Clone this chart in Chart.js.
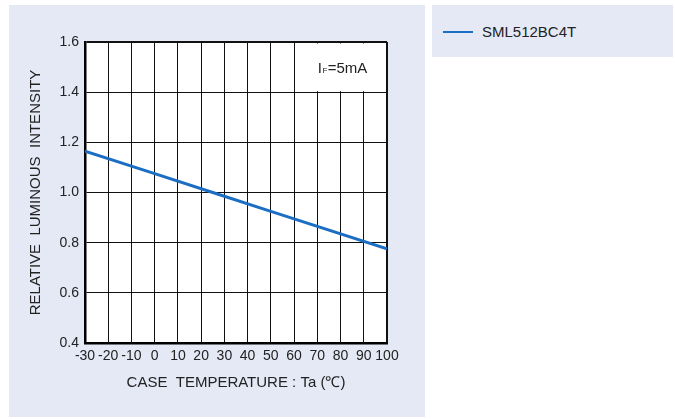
<!DOCTYPE html>
<html>
<head>
<meta charset="utf-8">
<script src="https://cdn.jsdelivr.net/npm/chart.js@4/dist/chart.umd.min.js"></script>
<style>
  html, body { margin: 0; padding: 0; background: #ffffff; }
  #wrap { position: relative; width: 675px; height: 419px; overflow: hidden; font-family: "Liberation Sans", Arial, sans-serif; }
  #panel { position: absolute; left: 9px; top: 5px; width: 416px; height: 412px; background: rgb(228,233,245); }
  #legendPanel { position: absolute; left: 432px; top: 5px; width: 241px; height: 52px; background: rgb(228,233,245); }
  #legendLine { position: absolute; left: 11px; top: 26px; width: 30px; height: 2px; }
  #legendText { position: absolute; left: 50px; top: 17px; font-size: 15px; line-height: 20px; color: #222; }
  #c { position: absolute; left: 0; top: 0; }
</style>
</head>
<body>
<div id="wrap">
  <div id="panel"></div>
  <div id="legendPanel"><div id="legendLine"></div><div id="legendText"></div></div>
  <canvas id="c" width="675" height="419"></canvas>
</div>
<script>
// ---- data ----
const seriesName = "SML512BC4T";
const temperatures = [-30, 0, 25, 50, 100];
const intensity = [1.165, 1.075, 1.0, 0.925, 0.775];
const xTicks = [-30, -20, -10, 0, 10, 20, 30, 40, 50, 60, 70, 80, 90, 100];
const yTicks = [0.4, 0.6, 0.8, 1.0, 1.2, 1.4, 1.6];
const xTitle = "CASE  TEMPERATURE : Ta (\u2103)";
const yTitle = "RELATIVE  LUMINOUS  INTENSITY";
const noteMain = "I";
const noteSub = "F";
const noteRest = "=5mA";
const noteBoxX = [60, 100];
const noteBoxY = [1.4, 1.6];
const lineColor = "#1b6ec2";

document.getElementById('legendLine').style.background = lineColor;
document.getElementById('legendText').textContent = seriesName;

const FONT = "'Liberation Sans', Arial, sans-serif";

const notePlugin = {
  id: 'notePlugin',
  beforeDraw(chart) {
    const {ctx, chartArea: a} = chart;
    ctx.save();
    ctx.fillStyle = '#ffffff';
    ctx.fillRect(a.left, a.top, a.right - a.left, a.bottom - a.top);
    ctx.restore();
  },
  beforeDatasetsDraw(chart) {
    const {ctx, scales: {x, y}} = chart;
    const x0 = x.getPixelForValue(noteBoxX[0]);
    const x1 = x.getPixelForValue(noteBoxX[1]);
    const y0 = y.getPixelForValue(noteBoxY[1]);
    const y1 = y.getPixelForValue(noteBoxY[0]);
    ctx.save();
    ctx.fillStyle = '#ffffff';
    ctx.fillRect(x0 + 1, y0 + 1.5, x1 - x0 - 2.5, y1 - y0 - 2.5);
    // label
    const cx = x.getPixelForValue((noteBoxX[0] + noteBoxX[1]) / 2) + 2;
    const cy = y.getPixelForValue((noteBoxY[0] + noteBoxY[1]) / 2);
    const big = '15px ' + FONT, small = '8px ' + FONT;
    ctx.font = big; const w1 = ctx.measureText(noteMain).width; const w3 = ctx.measureText(noteRest).width;
    ctx.font = small; const w2 = ctx.measureText(noteSub).width;
    const total = w1 + w2 + w3 + 1;
    let sx = cx - total / 2;
    const base = cy + 5.5;
    ctx.fillStyle = '#222';
    ctx.textBaseline = 'alphabetic';
    ctx.textAlign = 'left';
    ctx.font = big; ctx.fillText(noteMain, sx, base); sx += w1 + 0.5;
    ctx.font = small; ctx.fillText(noteSub, sx, base); sx += w2 + 0.5;
    ctx.font = big; ctx.fillText(noteRest, sx, base);
    ctx.restore();
  }
};

new Chart(document.getElementById('c'), {
  type: 'line',
  data: {
    datasets: [{
      label: seriesName,
      data: temperatures.map((t, i) => ({x: t, y: intensity[i]})),
      borderColor: lineColor,
      backgroundColor: lineColor,
      borderWidth: 3,
      pointRadius: 0,
      tension: 0,
      fill: false
    }]
  },
  options: {
    responsive: false,
    devicePixelRatio: 1,
    animation: false,
    layout: { padding: { left: 0, top: 42, right: 288, bottom: 0 } },
    plugins: { legend: { display: false }, tooltip: { enabled: false } },
    scales: {
      x: {
        type: 'linear',
        min: xTicks[0], max: xTicks[xTicks.length - 1],
        afterBuildTicks: s => { s.ticks = xTicks.map(v => ({value: v})); },
        afterFit: s => { s.height = 76; },
        ticks: { autoSkip: false, maxRotation: 0, padding: 5, color: '#222', font: { size: 14, family: FONT } },
        grid: {
          drawTicks: false,
          color: '#111',
          lineWidth: c => (c.index === xTicks.length - 1 ? 2 : 1)
        },
        border: { display: true, color: '#000', width: 2.5 },
        title: { display: true, text: xTitle, color: '#222', font: { size: 15, family: FONT }, padding: { top: 0, bottom: 27.5 } }
      },
      y: {
        type: 'linear',
        min: yTicks[0], max: yTicks[yTicks.length - 1],
        afterBuildTicks: s => { s.ticks = yTicks.map(v => ({value: v})); },
        afterFit: s => { s.width = 85; },
        ticks: { padding: 6, color: '#222', font: { size: 14, family: FONT }, callback: v => Number(v).toFixed(1) },
        grid: {
          drawTicks: false,
          color: '#111',
          lineWidth: c => (c.index === yTicks.length - 1 ? 2 : 1)
        },
        border: { display: true, color: '#000', width: 2.5 },
        title: { display: true, text: yTitle, color: '#222', font: { size: 15, family: FONT }, padding: { top: 27, bottom: 0 } }
      }
    }
  },
  plugins: [notePlugin]
});
</script>
</body>
</html>
